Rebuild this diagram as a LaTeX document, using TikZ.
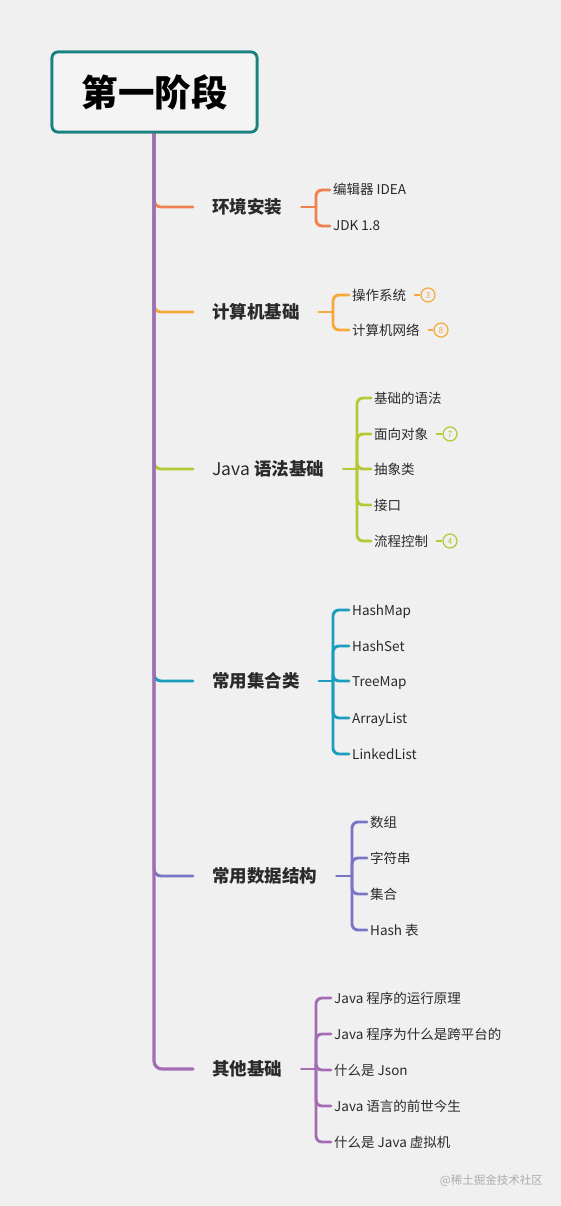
\documentclass[tikz,border=0pt]{standalone}
\usepackage{fontspec}
\setmainfont{Noto Sans CJK SC}
\usetikzlibrary{calc}
\definecolor{bgc}{HTML}{F0F0F0}
\definecolor{boxfill}{HTML}{F4F4F4}
\definecolor{teal1}{HTML}{17827F}
\definecolor{cA}{HTML}{F0804F}
\definecolor{cB}{HTML}{F6A93B}
\definecolor{cC}{HTML}{B5C934}
\definecolor{cD}{HTML}{1A9DBF}
\definecolor{cE}{HTML}{7A74C4}
\definecolor{cF}{HTML}{A36CB3}
\definecolor{txt}{HTML}{2A2A2A}
\begin{document}
\begin{tikzpicture}[x=1pt,y=-1pt,
  root/.style={draw=teal1, fill=boxfill, line width=2.8pt, rounded corners=6pt,
    minimum width=205pt, minimum height=80pt, inner sep=0pt,
    font=\fontsize{36.5}{40}\selectfont\bfseries, text=black},
  lab/.style={font=\fontsize{17.5}{20}\selectfont\bfseries, text=txt, inner xsep=19pt, inner ysep=2pt, anchor=west},
  kid/.style={font=\fontsize{13.5}{16}\selectfont, text=txt, inner xsep=3pt, inner ysep=1pt,
    text height=11.5pt, text depth=1.5pt, anchor=west},
  ln/.style={line width=2.9pt, rounded corners=6pt, line cap=round},
  sm/.style={line width=1.4pt, shorten <=5pt},
  num/.style={circle, draw, fill=bgc, line width=1.2pt, inner sep=0pt, minimum size=14pt, font=\fontsize{8.5}{8.5}\selectfont},
]
\useasboundingbox (0,0) rectangle (561,1206);
\fill[bgc] (0,0) rectangle (561,1206);

% branch labels
\node[lab] (b1) at (193,207) {环境安装};
\node[lab] (b2) at (193,312) {计算机基础};
\node[lab] (b3) at (193,469) {{\mdseries Java} 语法基础};
\node[lab] (b4) at (193,681) {常用集合类};
\node[lab] (b5) at (193,876) {常用数据结构};
\node[lab] (b6) at (193,1069) {其他基础};

% root
\node[root] (root) at (154.5,92) {第一阶段};
\coordinate (tr) at (154,133);

% trunk + branch lines (last one covers the trunk)
\draw[ln,cA,rounded corners=7pt] (tr) |- (b1.west);
\draw[ln,cB,rounded corners=7pt] (tr) |- (b2.west);
\draw[ln,cC,rounded corners=7pt] (tr) |- (b3.west);
\draw[ln,cD,rounded corners=7pt] (tr) |- (b4.west);
\draw[ln,cE,rounded corners=7pt] (tr) |- (b5.west);
\draw[ln,cF,line width=3.2pt,rounded corners=8pt] (tr) |- (b6.west);
\node[root] at (root) {第一阶段};

% ---- branch 1
\coordinate (k1) at (316,207);
\node[kid] (c11) at (330,190) {编辑器 IDEA};
\node[kid] (c12) at (330,226) {JDK 1.8};
\draw[ln,cA] (b1.east) -- (k1);
\foreach \c in {c11,c12} \draw[ln,cA] (k1) |- (\c.west);

% ---- branch 2
\coordinate (k2) at (333,312);
\node[kid] (c21) at (349,295) {操作系统};
\node[kid] (c22) at (349,330) {计算机网络};
\draw[ln,cB] (b2.east) -- (k2);
\foreach \c in {c21,c22} \draw[ln,cB] (k2) |- (\c.west);
\node[num,draw=cB,text=cB] (n21) at (428,295) {3};
\node[num,draw=cB,text=cB] (n22) at (441,330) {8};
\draw[sm,cB] (c21.east) -- (n21.west);
\draw[sm,cB] (c22.east) -- (n22.west);

% ---- branch 3
\coordinate (k3) at (357,469);
\node[kid] (c31) at (371,398) {基础的语法};
\node[kid] (c32) at (371,434) {面向对象};
\node[kid] (c33) at (371,469) {抽象类};
\node[kid] (c34) at (371,505) {接口};
\node[kid] (c35) at (371,541) {流程控制};
\draw[ln,cC] (b3.east) -- (k3);
\foreach \c in {c31,c32,c33,c34,c35} \draw[ln,cC] (k3) |- (\c.west);
\node[num,draw=cC,text=cC] (n32) at (450,434) {7};
\node[num,draw=cC,text=cC] (n35) at (450,541) {4};
\draw[sm,cC] (c32.east) -- (n32.west);
\draw[sm,cC] (c35.east) -- (n35.west);

% ---- branch 4
\coordinate (k4) at (333,681);
\node[kid] (c41) at (349,610) {HashMap};
\node[kid] (c42) at (349,646) {HashSet};
\node[kid] (c43) at (349,681) {TreeMap};
\node[kid] (c44) at (349,718) {ArrayList};
\node[kid] (c45) at (349,754) {LinkedList};
\draw[ln,cD] (b4.east) -- (k4);
\foreach \c in {c41,c42,c43,c44,c45} \draw[ln,cD] (k4) |- (\c.west);

% ---- branch 5
\coordinate (k5) at (352,876);
\node[kid] (c51) at (367,822) {数组};
\node[kid] (c52) at (367,858) {字符串};
\node[kid] (c53) at (367,894) {集合};
\node[kid] (c54) at (367,930) {Hash 表};
\draw[ln,cE] (b5.east) -- (k5);
\foreach \c in {c51,c52,c53,c54} \draw[ln,cE] (k5) |- (\c.west);

% ---- branch 6
\coordinate (k6) at (316,1069);
\node[kid] (c61) at (331,998) {Java 程序的运行原理};
\node[kid] (c62) at (331,1034) {Java 程序为什么是跨平台的};
\node[kid] (c63) at (331,1070) {什么是 Json};
\node[kid] (c64) at (331,1106) {Java 语言的前世今生};
\node[kid] (c65) at (331,1142) {什么是 Java 虚拟机};
\draw[ln,cF] (b6.east) -- (k6);
\foreach \c in {c61,c62,c63,c64,c65} \draw[ln,cF] (k6) |- (\c.west);

% watermark
\node[anchor=east, font=\fontsize{11.5}{13}\selectfont, text=black!32, inner sep=0pt] (wm) at (543,1181) {@稀土掘金技术社区};
\end{tikzpicture}
\end{document}
